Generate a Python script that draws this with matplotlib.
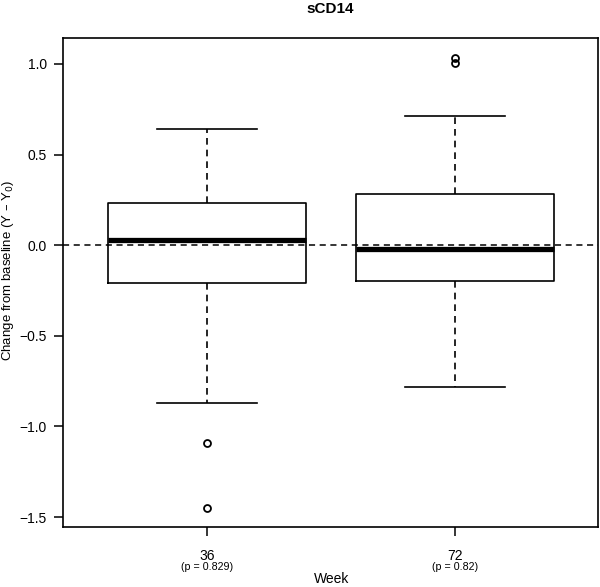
import matplotlib
matplotlib.use("Agg")
import matplotlib.pyplot as plt
import matplotlib.transforms as mtransforms

plt.rcParams['font.family'] = ['Liberation Sans', 'DejaVu Sans']

# box statistics
weeks = ["36", "72"]
p_labels = ["(p = 0.829)", "(p = 0.82)"]
q1 = [-0.21, -0.20]
medians = [0.03, -0.02]
q3 = [0.23, 0.28]
whisker_lo = [-0.87, -0.78]
whisker_hi = [0.64, 0.71]
outliers = [[-1.09, -1.45], [1.035, 1.005]]

stats = []
for i in range(len(weeks)):
    stats.append(dict(med=medians[i], q1=q1[i], q3=q3[i],
                      whislo=whisker_lo[i], whishi=whisker_hi[i],
                      fliers=outliers[i], label=weeks[i]))

fig = plt.figure(figsize=(6.0, 5.87), dpi=100)
ax = fig.add_axes([0.105, 0.1022, 0.8917, 0.8331])

ax.axhline(0, color='black', linestyle=(0, (4, 3)), linewidth=1.1, zorder=1)

ax.bxp(stats, positions=[1, 2], widths=0.8, showfliers=True,
       boxprops=dict(color='black', linewidth=1.2),
       medianprops=dict(color='black', linewidth=3.8, solid_capstyle='butt'),
       whiskerprops=dict(color='black', linewidth=1.2, linestyle=(0, (4, 3))),
       capprops=dict(color='black', linewidth=1.2),
       capwidths=0.4,
       flierprops=dict(marker='o', markerfacecolor='none', markeredgecolor='black',
                       markersize=5, markeredgewidth=1.3))

ax.set_xlim(0.419, 2.577)
ax.set_ylim(-1.555, 1.143)
ax.set_yticks([-1.5, -1.0, -0.5, 0.0, 0.5, 1.0])
ax.set_yticklabels(["\u22121.5", "\u22121.0", "\u22120.5", "0.0", "0.5", "1.0"])
ax.set_xticks([1, 2])
ax.set_xticklabels(weeks)

ax.tick_params(axis='both', direction='out', length=6.5, width=1.1, labelsize=10, pad=5)
ax.tick_params(axis='x', pad=9)
for s in ax.spines.values():
    s.set_linewidth(1.2)

trans = mtransforms.blended_transform_factory(ax.transData, fig.transFigure)
for i, lab in enumerate(p_labels):
    ax.text(i + 1, 1 - 567 / 587, lab, transform=trans, ha='center', va='center', fontsize=7.7)

fig.text(0.553, 1 - 579 / 587, "Week", ha='center', va='center', fontsize=10)
fig.text(0.55, 1 - 9 / 587, "sCD14", ha='center', va='center', fontsize=11, fontweight='bold')
fig.text(0.014, 1 - 270 / 587, "Change from baseline (Y \u2013 Y$_0$)", rotation=90,
         ha='center', va='center', fontsize=9.5)

fig.savefig("out.png", dpi=100)
